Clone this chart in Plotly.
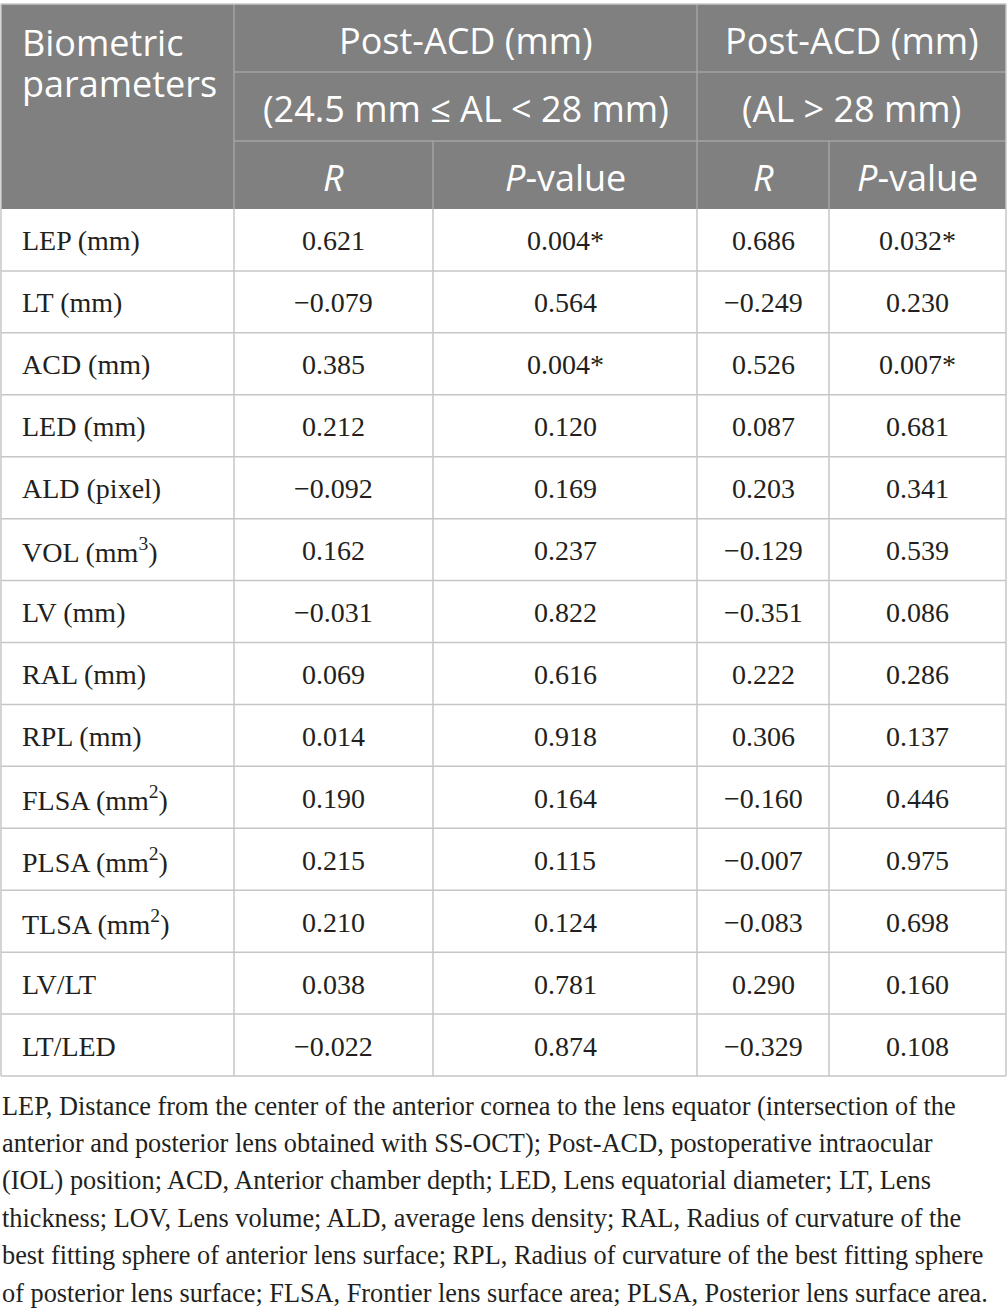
import plotly.graph_objects as go

# data
params = ["LEP (mm)", "LT (mm)", "ACD (mm)", "LED (mm)", "ALD (pixel)", "VOL (mm<sup>3</sup>)",
          "LV (mm)", "RAL (mm)", "RPL (mm)", "FLSA (mm<sup>2</sup>)", "PLSA (mm<sup>2</sup>)",
          "TLSA (mm<sup>2</sup>)", "LV/LT", "LT/LED"]
r_mid = ["0.621", "−0.079", "0.385", "0.212", "−0.092", "0.162", "−0.031", "0.069", "0.014",
         "0.190", "0.215", "0.210", "0.038", "−0.022"]
p_mid = ["0.004*", "0.564", "0.004*", "0.120", "0.169", "0.237", "0.822", "0.616", "0.918",
         "0.164", "0.115", "0.124", "0.781", "0.874"]
r_long = ["0.686", "−0.249", "0.526", "0.087", "0.203", "−0.129", "−0.351", "0.222", "0.306",
          "−0.160", "−0.007", "−0.083", "0.290", "−0.329"]
p_long = ["0.032*", "0.230", "0.007*", "0.681", "0.341", "0.539", "0.086", "0.286", "0.137",
          "0.446", "0.975", "0.698", "0.160", "0.108"]
corner_head = ["Biometric", "parameters"]
group_titles = ["Post-ACD (mm)", "Post-ACD (mm)"]
group_ranges = ["(24.5 mm ≤ AL &lt; 28 mm)", "(AL &gt; 28 mm)"]
sub_heads = ["<i>R</i>", "<i>P</i>-value", "<i>R</i>", "<i>P</i>-value"]
footnote = [
    "LEP, Distance from the center of the anterior cornea to the lens equator (intersection of the",
    "anterior and posterior lens obtained with SS-OCT); Post-ACD, postoperative intraocular",
    "(IOL) position; ACD, Anterior chamber depth; LED, Lens equatorial diameter; LT, Lens",
    "thickness; LOV, Lens volume; ALD, average lens density; RAL, Radius of curvature of the",
    "best fitting sphere of anterior lens surface; RPL, Radius of curvature of the best fitting sphere",
    "of posterior lens surface; FLSA, Frontier lens surface area; PLSA, Posterior lens surface area.",
]

# geometry (pixels, y downwards)
W, H = 1007, 1315
col_x = [1, 234, 433, 697, 829, 1006]
head_y = [4, 72, 141, 209]
row_h = (1076 - 209) / len(params)
body_top = head_y[-1]
HEAD_BG = "#808080"
HEAD_LINE = "#a3a3a3"
BODY_LINE = "#c6c6c6"
TXT = "#231f20"
SANS = "Open Sans"
SERIF = "Liberation Serif"
HS = 36   # header font size
BS = 28   # body font size
FS = 26.3  # footnote font size

fig = go.Figure()
shapes = []
ann = []

# header background
shapes.append(dict(type="rect", x0=col_x[0], x1=col_x[-1], y0=head_y[0], y1=head_y[-1],
                   fillcolor=HEAD_BG, line=dict(width=0), layer="below"))
# header inner lines + group texts
for g in range(2):
    xa, xb = col_x[1 + 2 * g], col_x[3 + 2 * g]
    for yy in head_y[1:3]:
        shapes.append(dict(type="line", x0=xa, x1=xb, y0=yy, y1=yy,
                           line=dict(color=HEAD_LINE, width=1.5)))
    ann.append(dict(x=(xa + xb) / 2, y=(head_y[0] + head_y[1]) / 2 + 2, text=group_titles[g],
                    font=dict(family=SANS, size=HS, color="white")))
    ann.append(dict(x=(xa + xb) / 2, y=(head_y[1] + head_y[2]) / 2 + 2, text=group_ranges[g],
                    font=dict(family=SANS, size=HS, color="white")))
for c in (1, 3):
    shapes.append(dict(type="line", x0=col_x[c], x1=col_x[c], y0=head_y[0], y1=head_y[-1],
                       line=dict(color=HEAD_LINE, width=1.5)))
for c in (2, 4):
    shapes.append(dict(type="line", x0=col_x[c], x1=col_x[c], y0=head_y[2], y1=head_y[-1],
                       line=dict(color=HEAD_LINE, width=1.5)))
for i, t in enumerate(sub_heads):
    ann.append(dict(x=(col_x[i + 1] + col_x[i + 2]) / 2, y=(head_y[2] + head_y[3]) / 2 + 2, text=t,
                    font=dict(family=SANS, size=HS, color="white")))
# two stacked lines, tight leading as in the source
for k, t in enumerate(corner_head):
    ann.append(dict(x=20, y=42 + k * 41, text=t, xanchor="left",
                    font=dict(family=SANS, size=HS, color="white")))

# body grid
row_y = [body_top + i * row_h for i in range(len(params) + 1)]
for y in row_y[1:]:
    shapes.append(dict(type="line", x0=col_x[0], x1=col_x[-1], y0=y, y1=y,
                       line=dict(color=BODY_LINE, width=1.5)))
for x in col_x:
    shapes.append(dict(type="line", x0=x, x1=x, y0=body_top, y1=row_y[-1],
                       line=dict(color=BODY_LINE, width=1.5)))
shapes.append(dict(type="line", x0=col_x[0], x1=col_x[-1], y0=head_y[0], y1=head_y[0],
                   line=dict(color=BODY_LINE, width=1.5)))
for x in (col_x[0], col_x[-1]):
    shapes.append(dict(type="line", x0=x, x1=x, y0=head_y[0], y1=head_y[-1],
                       line=dict(color=BODY_LINE, width=1.5)))

cols = [r_mid, p_mid, r_long, p_long]
for i, name in enumerate(params):
    yc = (row_y[i] + row_y[i + 1]) / 2 + 1
    ann.append(dict(x=20, y=yc, text=name, xanchor="left",
                    font=dict(family=SERIF, size=BS, color=TXT)))
    for j, col in enumerate(cols):
        ann.append(dict(x=(col_x[j + 1] + col_x[j + 2]) / 2, y=yc, text=col[i],
                        font=dict(family=SERIF, size=BS, color=TXT)))

# footnote
for k, line in enumerate(footnote):
    ann.append(dict(x=0, y=1106 + k * 37.4, text=line, xanchor="left",
                    font=dict(family=SERIF, size=FS, color=TXT)))

for a in ann:
    a.setdefault("showarrow", False)
    a.setdefault("xref", "x")
    a.setdefault("yref", "y")

fig.add_trace(go.Scatter(x=[0, W], y=[0, H], mode="markers", marker=dict(opacity=0),
                         hoverinfo="skip", showlegend=False))
fig.update_layout(
    width=W, height=H, margin=dict(l=0, r=0, t=0, b=0),
    paper_bgcolor="white", plot_bgcolor="white",
    xaxis=dict(range=[0, W], visible=False, fixedrange=True),
    yaxis=dict(range=[H, 0], visible=False, fixedrange=True),
    shapes=shapes, annotations=ann,
)
fig.write_html("out.html", config={"displayModeBar": False},
               post_script="document.body.style.margin='0';document.body.style.overflow='hidden';")
